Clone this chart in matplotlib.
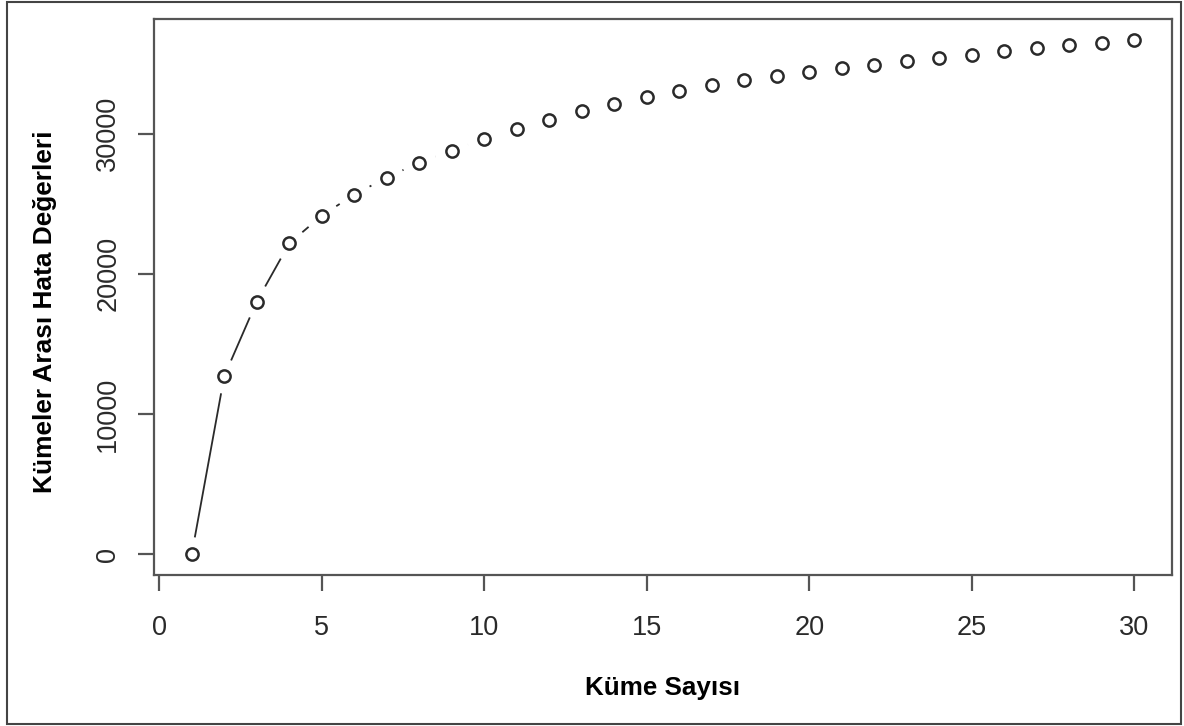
import numpy as np
import matplotlib
matplotlib.use("Agg")
import matplotlib.pyplot as plt
from matplotlib.patches import Rectangle

# Image size
IMAGE_WIDTH = 1184  # px
IMAGE_HEIGHT = 726  # px
DPI = 100

plt.rcParams['font.family'] = ['Liberation Sans', 'DejaVu Sans']

# Data
cluster_counts = list(range(1, 31))
between_errors = [0, 12700, 18030, 22170, 24160, 25660, 26870, 27940, 28800, 29650,
                  30360, 31000, 31650, 32150, 32640, 33070, 33500, 33860, 34140, 34430,
                  34710, 34930, 35210, 35420, 35640, 35920, 36140, 36350, 36490, 36710]
x_ticks = [0, 5, 10, 15, 20, 25, 30]
y_ticks = [0, 10000, 20000, 30000]
x_label = "Küme Sayısı"
y_label = "Kümeler Arası Hata Değerleri"

INK = '#2a2a2a'
FRAME = '#555555'
GAP_PX = 17.3  # gap between point and line, like R's type="b"

fig = plt.figure(figsize=(IMAGE_WIDTH / DPI, IMAGE_HEIGHT / DPI), dpi=DPI)
ax = fig.add_axes([154 / IMAGE_WIDTH, (IMAGE_HEIGHT - 575) / IMAGE_HEIGHT,
                   (1172 - 154) / IMAGE_WIDTH, (575 - 19) / IMAGE_HEIGHT])

# R style 4% extension of the data range
x = np.array(cluster_counts, dtype=float)
y = np.array(between_errors, dtype=float)
xr = x.max() - x.min()
yr = y.max() - y.min()
ax.set_xlim(x.min() - 0.04 * xr, x.max() + 0.04 * xr)
ax.set_ylim(y.min() - 0.04 * yr, y.max() + 0.04 * yr)

# line segments with gaps around the points
pts = ax.transData.transform(np.column_stack([x, y]))
inv = ax.transData.inverted()
for p0, p1 in zip(pts[:-1], pts[1:]):
    d = p1 - p0
    length = np.hypot(*d)
    if length <= 2 * GAP_PX:
        continue
    u = d / length
    seg = inv.transform(np.vstack([p0 + u * GAP_PX, p1 - u * GAP_PX]))
    ax.plot(seg[:, 0], seg[:, 1], color=INK, lw=1.3, solid_capstyle='butt')

ax.plot(x, y, linestyle='none', marker='o', markersize=8.8, markerfacecolor='none',
        markeredgecolor=INK, markeredgewidth=1.8)

for side in ax.spines.values():
    side.set_color(FRAME)
    side.set_linewidth(1.6)

ax.set_xticks(x_ticks)
ax.set_yticks(y_ticks)
ax.set_xticklabels([str(t) for t in x_ticks])
ax.set_yticklabels([str(t) for t in y_ticks], rotation=90, va='center')
ax.tick_params(axis='both', direction='out', length=11.5, width=1.6, color=FRAME,
               labelsize=19.5, labelcolor=INK)
ax.tick_params(axis='x', pad=17)
ax.tick_params(axis='y', pad=12)

ax.set_xlabel(x_label, fontsize=18.7, fontweight='bold', color='black', va='center')
ax.xaxis.set_label_coords(0.5, (575 - 688) / (575 - 19))
ax.set_ylabel(y_label, fontsize=18.9, fontweight='bold', color='black', va='center')
ax.yaxis.set_label_coords((45 - 154) / (1172 - 154), (575 - 312) / (575 - 19))

# outer frame around the picture
fig.patches.append(Rectangle((7 / IMAGE_WIDTH, 2 / IMAGE_HEIGHT),
                             (1181 - 7) / IMAGE_WIDTH, (724 - 2) / IMAGE_HEIGHT,
                             transform=fig.transFigure, fill=False,
                             edgecolor='#444444', linewidth=1.5))

fig.savefig('out.png', dpi=DPI)
